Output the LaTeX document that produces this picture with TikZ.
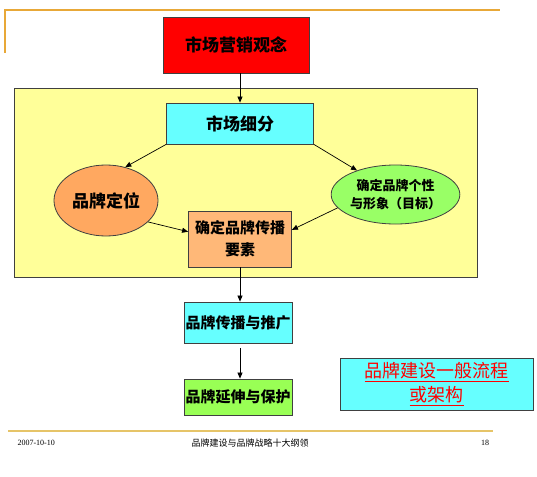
\documentclass[tikz,border=0pt]{standalone}
\usepackage{fontspec}
\setmainfont{Liberation Serif}
\newfontfamily\cjk{Noto Sans CJK SC}
\usetikzlibrary{arrows.meta,shapes.geometric}
\definecolor{cred}{HTML}{FF0000}
\definecolor{ccyan}{HTML}{66FFFF}
\definecolor{cyel}{HTML}{FFFF99}
\definecolor{corg}{HTML}{FFA860}
\definecolor{cgrn}{HTML}{99FF66}
\definecolor{corgbox}{HTML}{FFB878}
\definecolor{cgrnbox}{HTML}{99FF55}
\definecolor{cgold}{HTML}{E8A838}
\definecolor{cgoldb}{HTML}{E6C468}
\tikzset{
  boxnode/.style={draw=black!75,line width=0.8pt,inner sep=0pt,align=center,font=\cjk\bfseries},
  ellnode/.style={ellipse,draw=black!75,line width=0.8pt,inner sep=0pt,align=center,font=\cjk\bfseries},
  arr/.style={-{Triangle[length=6pt,width=5pt]},line width=0.7pt,black},
}
\begin{document}
\begin{tikzpicture}[x=1pt,y=-1pt]
\useasboundingbox (0,0) rectangle (537,476);
% frame lines
\draw[cgold,line width=1.2pt] (5,53) -- (5,10) -- (500,10);
\draw[cgoldb,line width=2pt] (8,431) -- (493,431);
% yellow container
\node[boxnode,fill=cyel,minimum width=463pt,minimum height=189pt] (cont) at (246,182.5) {};
% nodes
\node[boxnode,fill=cred,minimum width=146pt,minimum height=56pt,font=\cjk\bfseries\fontsize{17}{20}\selectfont] (top) at (236,45) {市场营销观念};
\node[boxnode,fill=ccyan,minimum width=147pt,minimum height=41pt,font=\cjk\bfseries\fontsize{17}{20}\selectfont] (seg) at (240,123.5) {市场细分};
\node[ellnode,fill=corg,minimum width=104pt,minimum height=71pt,font=\cjk\bfseries\fontsize{17}{20}\selectfont] (pos) at (106,200.5) {品牌定位};
\node[ellnode,fill=cgrn,minimum width=113pt,minimum height=59pt,font=\cjk\bfseries\fontsize{13}{18}\selectfont] (pers) at (395.5,194.5) {确定品牌个性\\与形象（目标）};
\node[boxnode,fill=corgbox,minimum width=103pt,minimum height=56pt,font=\cjk\bfseries\fontsize{15}{22}\selectfont] (elem) at (240,239) {确定品牌传播\\要素};
\node[boxnode,fill=ccyan,minimum width=108pt,minimum height=41pt,font=\cjk\bfseries\fontsize{15}{18}\selectfont] (push) at (238,322.5) {品牌传播与推广};
\node[boxnode,fill=cgrnbox,minimum width=108pt,minimum height=36pt,font=\cjk\bfseries\fontsize{15}{18}\selectfont] (ext) at (238,397) {品牌延伸与保护};
\node[boxnode,fill=ccyan,minimum width=193pt,minimum height=52pt,text=cred,font=\cjk\fontsize{18}{24}\selectfont] (title) at (436.5,384) {\underline{品牌建设一般流程}\\\underline{或架构}};
% connectors
\draw[arr] (seg.north |- top.south) -- (seg.north);
\draw[arr] (seg.south west) -- (pos.60);
\draw[arr] (seg.south east) -- (pers.148);
\draw[arr] (pos.-27) -- (elem.172);
\draw[arr] (pers.193) -- (elem.10);
\draw[arr] (elem.south) -- (elem.south |- push.north);
\draw[arr] (elem.south |- push.south) ++(0,5) coordinate (c1) -- (c1 |- ext.north);
% footer
\node[anchor=west,font=\fontsize{8}{10}\selectfont] (date) at (14,443) {2007-10-10};
\node[font=\cjk\fontsize{9}{11}\selectfont] (foot) at (250,443) {品牌建设与品牌战略十大纲领};
\node[font=\fontsize{8}{10}\selectfont] (pg) at (485,443) {18};
\end{tikzpicture}
\end{document}
